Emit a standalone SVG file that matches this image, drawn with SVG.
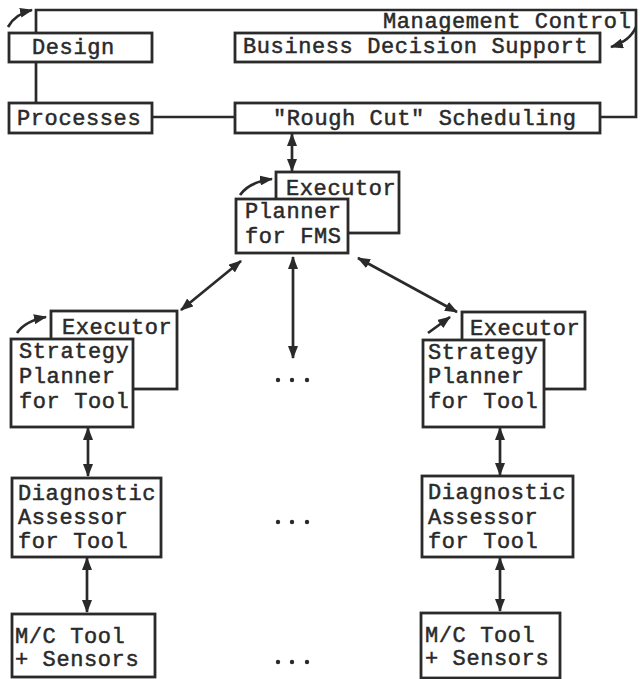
<svg xmlns="http://www.w3.org/2000/svg" width="640" height="679" viewBox="0 0 640 679">
<defs>
<style>
.b{fill:#fff;stroke:#2a2a2a;stroke-width:2.8}
.t{font-family:"Liberation Mono","DejaVu Sans Mono",monospace;font-size:22px;letter-spacing:0.6px;fill:#2a2a2a;stroke:#2a2a2a;stroke-width:0.5}
.c{fill:none;stroke:#2a2a2a;stroke-width:2.7}
.d{fill:#2a2a2a}
</style>
<marker id="ah" markerUnits="userSpaceOnUse" markerWidth="13" markerHeight="10" refX="12" refY="5" orient="auto-start-reverse">
<path d="M0,0 L13,5 L0,10 z" fill="#2a2a2a"/>
</marker>
</defs>
<rect width="640" height="679" fill="#fff"/>
<g id="connectors">
<path class="c" d="M36,33 V10 H636 V117 H600"/>
<path class="c" d="M36,62 V103"/>
<path class="c" d="M152,117 H235"/>
<path class="c" d="M292,134 V171" marker-start="url(#ah)" marker-end="url(#ah)"/>
<path class="c" d="M241,261 L181,310" marker-start="url(#ah)" marker-end="url(#ah)"/>
<path class="c" d="M293,257 V358" marker-start="url(#ah)" marker-end="url(#ah)"/>
<path class="c" d="M358,258 L457,312" marker-start="url(#ah)" marker-end="url(#ah)"/>
<path class="c" d="M88,428 V476" marker-start="url(#ah)" marker-end="url(#ah)"/>
<path class="c" d="M87,558 V612" marker-start="url(#ah)" marker-end="url(#ah)"/>
<path class="c" d="M500,428 V475" marker-start="url(#ah)" marker-end="url(#ah)"/>
<path class="c" d="M500,558 V611" marker-start="url(#ah)" marker-end="url(#ah)"/>
<path class="c" d="M8,27 Q15,14 32,10" marker-end="url(#ah)"/>
<path class="c" d="M636,27 Q630,41 611,47" marker-end="url(#ah)"/>
<path class="c" d="M240,195 Q249,182 272,179" marker-end="url(#ah)"/>
<path class="c" d="M385,200 Q378,213 352,217" marker-end="url(#ah)"/>
<path class="c" d="M17,333 Q25,321 46,317" marker-end="url(#ah)"/>
<path class="c" d="M170,328 Q162,346 142,352" marker-end="url(#ah)"/>
<path class="c" d="M580,328 Q574,345 549,350" marker-end="url(#ah)"/>
<path class="c" d="M428,333 L450,317" marker-end="url(#ah)"/>
</g>
<g id="design"><rect class="b" x="9" y="33" width="143" height="29"/><text class="t" x="32" y="54">Design</text></g>
<g id="management"><text class="t" x="383" y="28">Management Control</text></g>
<g id="business"><rect class="b" x="235" y="33" width="365" height="29"/><text class="t" x="243" y="53">Business Decision Support</text></g>
<g id="processes"><rect class="b" x="9" y="103" width="143" height="30"/><text class="t" x="17" y="125">Processes</text></g>
<g id="roughcut"><rect class="b" x="235" y="103" width="365" height="30"/><text class="t" x="273" y="125">"Rough Cut" Scheduling</text></g>
<g id="fms">
<rect class="b" x="276" y="172" width="123" height="61"/><text class="t" x="286" y="195">Executor</text>
<rect class="b" x="236" y="199" width="112" height="54"/><text class="t" x="245" y="218">Planner</text><text class="t" x="245" y="243">for FMS</text>
</g>
<g id="strategy-left">
<rect class="b" x="51" y="311" width="126" height="78"/><text class="t" x="62" y="334">Executor</text>
<rect class="b" x="11" y="339" width="122" height="88"/><text class="t" x="19" y="358">Strategy</text><text class="t" x="19" y="383">Planner</text><text class="t" x="19" y="408">for Tool</text>
</g>
<g id="strategy-right">
<rect class="b" x="462" y="312" width="123" height="77"/><text class="t" x="470" y="335">Executor</text>
<rect class="b" x="423" y="340" width="121" height="87"/><text class="t" x="428" y="359">Strategy</text><text class="t" x="428" y="383">Planner</text><text class="t" x="428" y="408">for Tool</text>
</g>
<g id="diag-left"><rect class="b" x="12" y="478" width="149" height="79"/><text class="t" x="18" y="500">Diagnostic</text><text class="t" x="18" y="524">Assessor</text><text class="t" x="18" y="548">for Tool</text></g>
<g id="diag-right"><rect class="b" x="422" y="476" width="151" height="81"/><text class="t" x="428" y="499">Diagnostic</text><text class="t" x="428" y="524">Assessor</text><text class="t" x="428" y="548">for Tool</text></g>
<g id="mc-left"><rect class="b" x="12" y="614" width="143" height="63"/><text class="t" x="15" y="643">M/C Tool</text><text class="t" x="15" y="666">+ Sensors</text></g>
<g id="mc-right"><rect class="b" x="421" y="613" width="139" height="65"/><text class="t" x="425" y="642">M/C Tool</text><text class="t" x="425" y="665">+ Sensors</text></g>
<g id="dots">
<circle class="d" cx="278" cy="380" r="2.2"/><circle class="d" cx="292" cy="380" r="2.2"/><circle class="d" cx="307" cy="380" r="2.2"/>
<circle class="d" cx="278" cy="522" r="2.2"/><circle class="d" cx="292" cy="522" r="2.2"/><circle class="d" cx="307" cy="522" r="2.2"/>
<circle class="d" cx="278" cy="662" r="2.2"/><circle class="d" cx="292" cy="662" r="2.2"/><circle class="d" cx="307" cy="662" r="2.2"/>
</g>
</svg>
